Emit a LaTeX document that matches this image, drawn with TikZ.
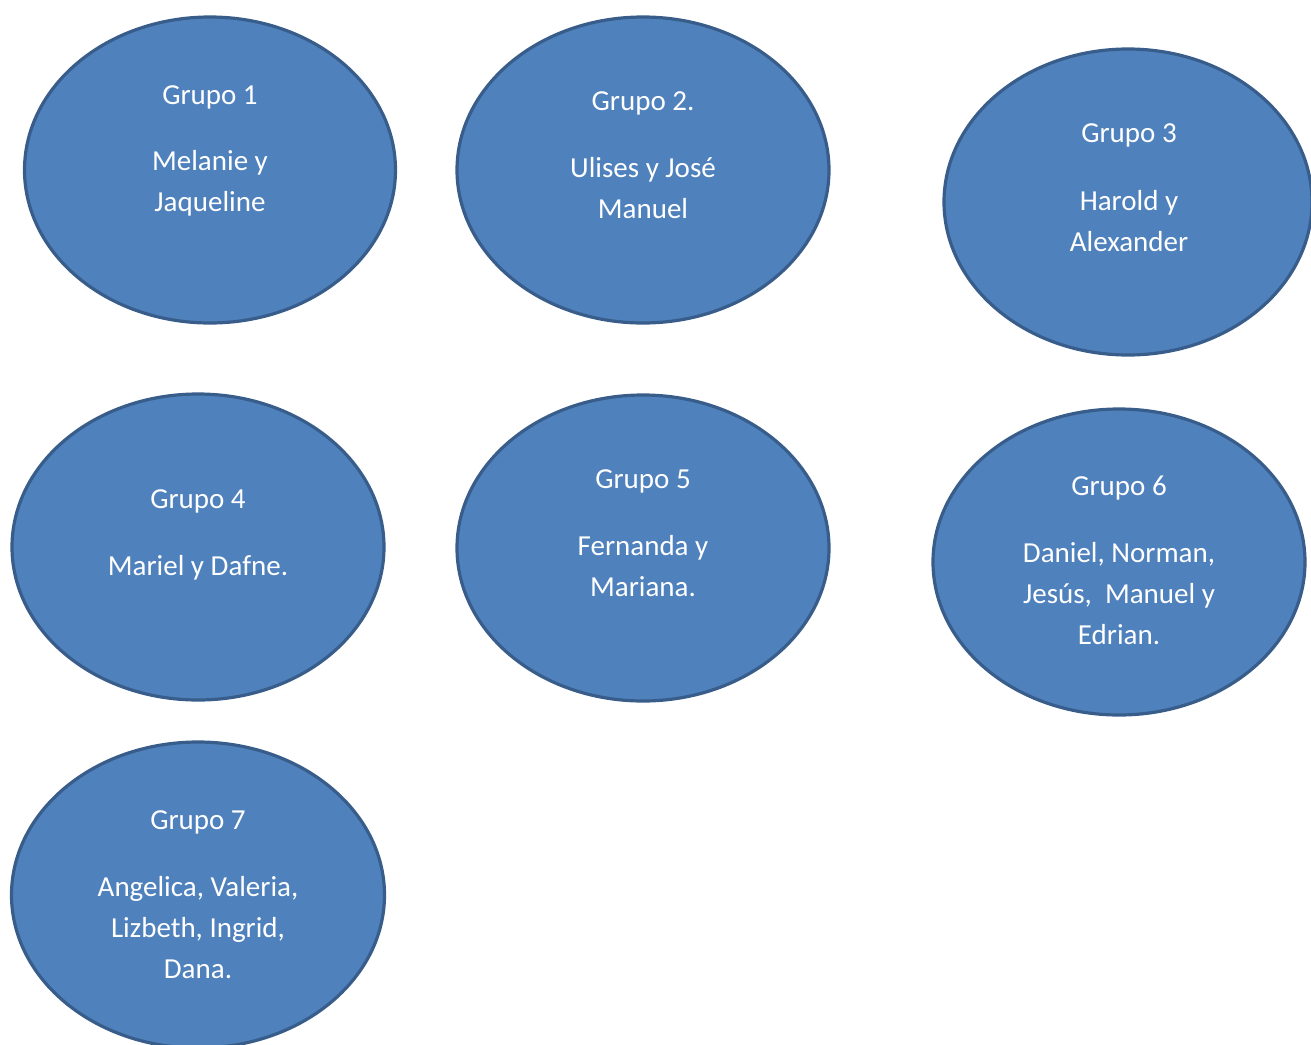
\documentclass[tikz,border=0pt]{standalone}
\usepackage{fontspec}
\setmainfont{Carlito}
\usetikzlibrary{shapes.geometric}
\definecolor{fillblue}{HTML}{4F81BD}
\definecolor{edgeblue}{HTML}{385D8A}
\tikzset{
  grp/.style={ellipse, draw=edgeblue, fill=fillblue, line width=3.2pt, minimum width=#1, minimum height=306pt, inner sep=0pt},
  grp/.default=372pt,
  lbl/.style={text=white, font=\fontsize{29}{41}\selectfont, align=center, inner sep=0pt, anchor=center}
}
\begin{document}
\begin{tikzpicture}[x=1pt,y=-1pt]
\useasboundingbox (0,0) rectangle (1311,1044);
\begin{scope}
\clip (0,0) rectangle (1311,1044);
\node[grp=371pt] (e1) at (210,170) {};
\node[grp=372pt] (e2) at (643,170) {};
\node[grp=368pt] (e3) at (1128,202) {};
\node[grp=372pt] (e4) at (198,547) {};
\node[grp=372pt] (e5) at (643,548) {};
\node[grp=372pt] (e6) at (1119,562) {};
\node[grp=373pt] (e7) at (198,895) {};
\end{scope}
% Grupo 1
\node[lbl] (t1) at (210,97) {Grupo 1};
\node[lbl] (n1) at (210,183) {Melanie y\\Jaqueline};
% Grupo 2
\node[lbl] (t2) at (643,103) {Grupo 2.};
\node[lbl] (n2) at (643,188) {Ulises y José\\Manuel};
% Grupo 3
\node[lbl] (t3) at (1129,135) {Grupo 3};
\node[lbl] (n3) at (1129,221) {Harold y\\Alexander};
% Grupo 4
\node[lbl] (t4) at (198,501) {Grupo 4};
\node[lbl] (n4) at (198,568) {Mariel y Dafne.};
% Grupo 5
\node[lbl] (t5) at (643,481) {Grupo 5};
\node[lbl] (n5) at (643,566) {Fernanda y\\Mariana.};
% Grupo 6
\node[lbl] (t6) at (1119,488) {Grupo 6};
\node[lbl] (n6) at (1119,594) {Daniel, Norman,\\Jesús,\ \ Manuel y\\Edrian.};
% Grupo 7
\node[lbl] (t7) at (198,822) {Grupo 7};
\node[lbl] (n7) at (198,928) {Angelica, Valeria,\\Lizbeth, Ingrid,\\Dana.};
\end{tikzpicture}
\end{document}
